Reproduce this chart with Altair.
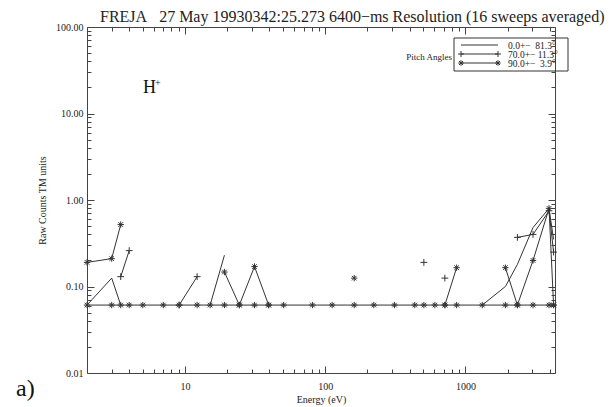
import altair as alt
import pandas as pd

# ---------------- data ----------------
energy = [2.0, 3.0, 3.48, 4.0, 5.0, 7.0, 9.08, 12.2, 15.1, 19.1, 24.4, 31.3, 39.5, 50.5,
          81.0, 112.0, 161.0, 222.0, 312.0, 435.0, 505.0, 605.0, 713.0, 865.0, 1318.0,
          1926.0, 2346.0, 3032.0, 3944.0, 4250.0]
N = None
one_count = [0.061, 0.061, 0.061, 0.061, 0.061, 0.061, 0.061, 0.061, 0.061, 0.061,
             0.061, 0.061, 0.061, 0.061, 0.061, 0.061, 0.061, 0.061, 0.061, 0.061,
             0.061, 0.061, 0.061, 0.061, 0.061, 0.061, 0.061, 0.061, 0.061, 0.061]
pa_0 = [0.061, 0.125, 0.061, N, N, N, N, N, 0.061, 0.23, N, N, N, N, N, N, N, N, N, N,
        N, N, N, N, 0.061, 0.10, 0.18, 0.48, 0.80, 0.35]
pa_70 = [N, N, 0.13, 0.26, N, N, 0.061, 0.13, N, N, N, N, N, N, N, N, N, N, N, N,
         0.19, N, 0.125, N, N, N, 0.37, 0.40, 0.75, 0.25]
pa_90 = [0.19, 0.21, 0.52, N, N, N, N, N, N, 0.147, 0.061, 0.17, 0.061, N, N, N, 0.125,
         N, N, N, N, N, 0.061, 0.165, N, 0.165, 0.061, 0.20, 0.80, 0.061]

NB = "\u00a0"
series_names = ["0.0+\u2212" + NB * 2 + "81.3°", "70.0+\u2212" + NB + "11.3°",
                "90.0+\u2212" + NB * 2 + "3.9°"]
title_text = "FREJA" + NB * 3 + "27 May 19930342:25.273 6400\u2212ms Resolution (16 sweeps averaged)"

x_major = [10, 100, 1000]
x_minor = [3, 4, 5, 6, 7, 8, 9, 20, 30, 40, 50, 60, 70, 80, 90,
           200, 300, 400, 500, 600, 700, 800, 900, 2000, 3000, 4000]
y_major = [0.01, 0.1, 1, 10, 100]
y_minor = [0.02, 0.03, 0.04, 0.05, 0.06, 0.07, 0.08, 0.09,
           0.2, 0.3, 0.4, 0.5, 0.6, 0.7, 0.8, 0.9,
           2, 3, 4, 5, 6, 7, 8, 9, 20, 30, 40, 50, 60, 70, 80, 90]

# ---------------- build tables ----------------
def rows(values, name):
    out, seg = [], 0
    prev = None
    for e, v in zip(energy, values):
        if v is None:
            if prev is not None:
                seg += 1
            prev = None
            continue
        out.append({"energy": e, "value": v, "series": name, "seg": f"{name}-{seg}"})
        prev = v
    return out

df = pd.DataFrame(rows(one_count, "base") + rows(pa_0, "s0") + rows(pa_70, "s70") + rows(pa_90, "s90"))

W, H = 468, 346
FONT = "Liberation Serif"
INK = "#333333"
AXC = "#444444"
PLUS = "M-1,0L1,0M0,-1L0,1"
AST = "M-1,0L1,0M0,-1L0,1M-0.72,-0.72L0.72,0.72M-0.72,0.72L0.72,-0.72"

xs = alt.Scale(type="log", domain=[2, 4350], nice=False)
ys = alt.Scale(type="log", domain=[0.01, 100], nice=False)

base = alt.Chart(df)
X = alt.X("energy:Q", scale=xs, axis=None)
Y = alt.Y("value:Q", scale=ys, axis=None)

lines = base.mark_line(color=INK, strokeWidth=1, clip=True).encode(x=X, y=Y, detail="seg:N")
plus_pts = base.transform_filter(alt.datum.series == "s70").mark_point(
    shape=PLUS, filled=False, size=46, strokeWidth=1, color=INK, opacity=1).encode(x=X, y=Y)
ast_pts = base.transform_filter(
    (alt.datum.series == "s90") | (alt.datum.series == "base")).mark_point(
    shape=AST, filled=False, size=40, strokeWidth=1, color=INK, opacity=1).encode(x=X, y=Y)

# ---------------- axes (IDL style: inward ticks on all four sides) ----------------
def axis_layer(xaxis, yaxis):
    return base.mark_point(opacity=0).encode(
        x=alt.X("energy:Q", scale=xs, axis=xaxis),
        y=alt.Y("value:Q", scale=ys, axis=yaxis),
    )

common = dict(grid=False, domainColor=AXC, tickColor=AXC, labelColor="#222",
              labelFont=FONT, titleFont=FONT)

ax_main = axis_layer(
    alt.Axis(orient="bottom", values=x_major, format="d", ticks=False, domain=True,
             labelFontSize=10, labelPadding=8, title="Energy (eV)", titleFontSize=10,
             titleFontWeight="normal", titleColor="#222", titlePadding=3, **common),
    alt.Axis(orient="left", values=y_major, format=".2f", ticks=False, domain=True,
             labelFontSize=10, labelPadding=4, title="Raw Counts TM units",
             titleFontSize=10, titleFontWeight="normal", titleColor="#222",
             titleX=-40, titleY=H / 2, titleAlign="center", **common),
)
ax_major_ticks = axis_layer(
    alt.Axis(orient="bottom", values=x_major, labels=False, domain=False, title=None,
             tickSize=alt.ExprRef("-7"), **common),
    alt.Axis(orient="left", values=y_major, labels=False, domain=False, title=None,
             tickSize=alt.ExprRef("-7"), **common),
)
ax_minor_ticks = axis_layer(
    alt.Axis(orient="bottom", values=x_minor, labels=False, domain=False, title=None,
             tickSize=alt.ExprRef("-4"), **common),
    alt.Axis(orient="left", values=y_minor, labels=False, domain=False, title=None,
             tickSize=alt.ExprRef("-4"), **common),
)
ax_top = axis_layer(
    alt.Axis(orient="top", values=x_major, labels=False, ticks=False, domain=True,
             title=None, **common),
    alt.Axis(orient="right", values=y_major, labels=False, ticks=False, domain=True,
             title=None, **common),
)
ax_top_major = axis_layer(
    alt.Axis(orient="top", values=x_major, labels=False, domain=False, title=None,
             tickSize=alt.ExprRef("-7"), **common),
    alt.Axis(orient="right", values=y_major, labels=False, domain=False, title=None,
             tickSize=alt.ExprRef("-7"), **common),
)
ax_top_minor = axis_layer(
    alt.Axis(orient="top", values=x_minor, labels=False, domain=False, title=None,
             tickSize=alt.ExprRef("-4"), **common),
    alt.Axis(orient="right", values=y_minor, labels=False, domain=False, title=None,
             tickSize=alt.ExprRef("-4"), **common),
)

# ---------------- annotations ----------------
one = alt.Chart(pd.DataFrame({"k": [0]}))


def txt(text, x, y, size, align="left", baseline="alphabetic", color="#222"):
    return one.mark_text(text=text, font=FONT, fontSize=size, align=align,
                         baseline=baseline, color=color).encode(
        x=alt.value(x), y=alt.value(y))


title = txt(title_text, 13, -5, 16)
hplus = txt("H", 56, 66, 18, color="#111")
hplus_sup = txt("+", 68, 59, 10, color="#111")
panel = txt("a)", -71, 369, 24, color="#111")

# legend (drawn as a box with sample lines, like the original)
LX0, LX1 = 374, 411
ROWS = [18, 27, 36]
leg_box = one.mark_rect(fillOpacity=0, stroke=INK, strokeWidth=1).encode(
    x=alt.value(367), x2=alt.value(481), y=alt.value(11), y2=alt.value(44))
leg_parts = [leg_box]
for r in ROWS:
    leg_parts.append(one.mark_rule(color=INK, strokeWidth=1).encode(
        x=alt.value(LX0), x2=alt.value(LX1), y=alt.value(r)))
for xx in (LX0, LX1):
    leg_parts.append(one.mark_point(shape=PLUS, filled=False, size=36, strokeWidth=1,
                                    color=INK, opacity=1).encode(
        x=alt.value(xx), y=alt.value(ROWS[1])))
    leg_parts.append(one.mark_point(shape=AST, filled=False, size=30, strokeWidth=1,
                                    color=INK, opacity=1).encode(
        x=alt.value(xx), y=alt.value(ROWS[2])))
for name, r in zip(series_names, ROWS):
    leg_parts.append(txt(name, 421, r + 3.5, 9.5, baseline="alphabetic"))
leg_parts.append(txt("Pitch Angles", 365, 30, 9, align="right", baseline="middle"))

chart = alt.layer(
    lines, plus_pts, ast_pts, *leg_parts,
    ax_main, ax_major_ticks, ax_minor_ticks, ax_top, ax_top_major, ax_top_minor,
    title, hplus, hplus_sup, panel,
).resolve_axis(x="independent", y="independent").properties(
    width=W, height=H,
    autosize=alt.AutoSizeParams(type="none"),
    padding={"left": 79, "top": 19, "right": 50, "bottom": 33},
    background="white",
).configure_view(strokeWidth=0)

chart.save("out.html", embed_options={"renderer": "svg", "actions": False})
